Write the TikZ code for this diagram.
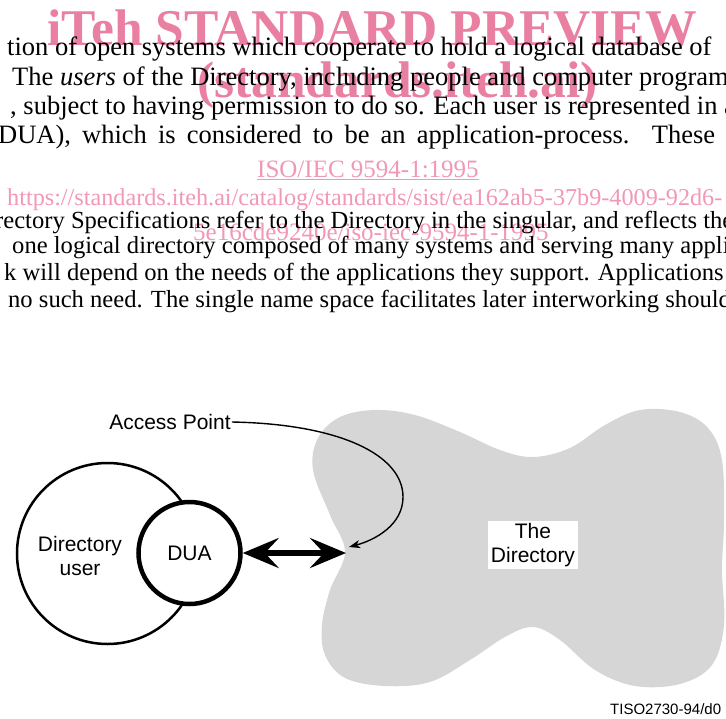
\documentclass[tikz,border=0pt]{standalone}
\usepackage{fontspec}
\setmainfont{Liberation Serif}
\newfontfamily\figfont{Liberation Sans}
\usetikzlibrary{arrows.meta}

\definecolor{wmpink}{RGB}{233,128,162}
\definecolor{wmlight}{RGB}{241,152,182}
\definecolor{dirgray}{gray}{0.84}

\tikzset{
  bodyline/.style={anchor=base west, inner sep=0pt, font=\fontsize{26.5}{32}\selectfont},
  lowline/.style={anchor=base west, inner sep=0pt, font=\fontsize{24.6}{30}\selectfont},
  wmbold/.style={anchor=base west, inner sep=0pt, text=wmpink, font=\fontsize{51.5}{60}\selectfont\bfseries},
  wmthin/.style={anchor=base west, inner sep=0pt, text=wmlight, font=\fontsize{25}{30}\selectfont},
  figtext/.style={font=\figfont\fontsize{21}{24}\selectfont, align=center, inner sep=1pt},
  dirarrow/.style={line width=6pt, {Stealth[length=36pt,width=30pt,inset=14pt]}-{Stealth[length=36pt,width=30pt,inset=14pt]}},
  apcurve/.style={line width=1.4pt, -{Stealth[length=11pt,width=8pt,inset=3pt]}},
}

\begin{document}
\begin{tikzpicture}[x=1pt, y=-1pt]
    \useasboundingbox (0,0) rectangle (726,718);

    % Watermark
    \node[wmbold] (wm1) at (47,45) {iTeh STANDARD PREVIEW};
    \node[wmbold] (wm2) at (197,97) {(standards.iteh.ai)};
    \node[wmthin] (wm3) at (257,177) {\underline{ISO/IEC 9594-1:1995}};
    \node[wmthin, font=\fontsize{24.2}{30}\selectfont] (wm4) at (7,205) {https://standards.iteh.ai/catalog/standards/sist/ea162ab5-37b9-4009-92d6-};
    \node[wmthin] (wm5) at (193,240) {5e16cde9240e/iso-iec-9594-1-1995};

    % Text above the figure
    \node[bodyline] (t1) at (7,55) {tion of open systems which cooperate to hold a logical database of};
    \node[bodyline] (t2) at (12,85) {The \textit{users} of the Directory, including people and computer programs};
    \node[bodyline] (t3) at (10,114) {, subject to having permission to do so. Each user is represented in an};
    \node[bodyline] (t4) at (-2,143) {\makebox[717pt][s]{DUA), which is considered to be an application-process. These}};
    \node[lowline] (t5) at (-5,228) {rectory Specifications refer to the Directory in the singular, and reflects the};
    \node[lowline] (t6) at (12,253) {one logical directory composed of many systems and serving many applications};
    \node[lowline] (t7) at (4,280) {k will depend on the needs of the applications they support. Applications};
    \node[lowline] (t8) at (8,307) {no such need. The single name space facilitates later interworking should the};

    % The Directory
    \fill[dirgray] plot[smooth cycle, tension=0.6] coordinates {
        (313,470) (318,438) (340,417) (375,410) (415,415) (460,432) (500,450)
        (533,457) (570,448) (605,425) (640,410) (680,412) (708,428) (722,460)
        (724,520) (722,570) (724,625) (712,665) (680,684) (635,686) (595,670)
        (560,640) (533,627) (505,637) (470,660) (430,682) (385,686) (345,678)
        (325,655) (322,625) (330,590) (345,552) (330,515)};
    \node[figtext, fill=white, inner xsep=3pt, inner ysep=2pt] (dir) at (533,545) {The\\Directory};

    % Directory user and DUA
    \node[circle, draw, line width=2.5pt, minimum size=181pt] (user) at (107.5,553.5) {};
    \node[figtext] (usertext) at (80,556) {Directory\\user};
    \node[circle, draw, fill=white, line width=4.5pt, minimum size=102pt, figtext] (dua) at (189.5,553) {DUA};

    % Access point
    \coordinate (dirTip) at (346,553);
    \coordinate (apTip) at (349,547);
    \draw[dirarrow] (dua) -- (dirTip);
    \node[figtext] (ap) at (170,422) {Access Point};
    \draw[apcurve] (ap.east) .. controls (340,424) and (403,455) .. (403,497)
        .. controls (403,525) and (375,540) .. (apTip);

    \node[anchor=base west, inner sep=0pt, font=\figfont\fontsize{15}{18}\selectfont] (figid) at (610,714) {TISO2730-94/d0};
\end{tikzpicture}
\end{document}
